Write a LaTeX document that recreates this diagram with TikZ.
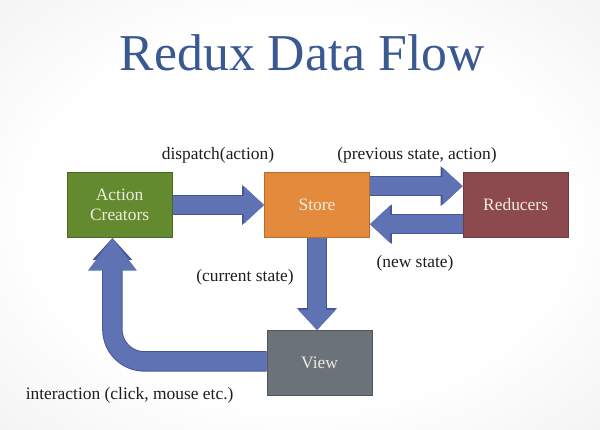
\documentclass[tikz,border=0pt]{standalone}
\usepackage{fontspec}
\setmainfont{Liberation Serif}
\usepackage{xcolor}
\usepackage{tikz}
\usetikzlibrary{arrows.meta, positioning}
\definecolor{mytitle}{RGB}{59,89,145}
\definecolor{mygreen}{RGB}{100,138,48}
\definecolor{myorange}{RGB}{228,138,60}
\definecolor{myred}{RGB}{140,74,78}
\definecolor{mygray}{RGB}{108,114,122}
\definecolor{myblue}{RGB}{94,114,180}
\definecolor{myedge}{RGB}{70,86,150}
\definecolor{mytext}{RGB}{238,236,222}
\definecolor{mydark}{RGB}{30,30,30}
\pgfdeclareradialshading{slidebg}{\pgfpoint{0bp}{0bp}}{color(0bp)=(white); color(22bp)=(white); color(50bp)=(black!9); color(72bp)=(black!22)}
\tikzset{
  box/.style={rectangle, minimum width=2.625cm, minimum height=1.625cm,
    align=center, text=mytext, line width=0.6pt,
    font=\fontsize{12.4}{14}\selectfont},
  label/.style={text=mydark, font=\fontsize{12.4}{14}\selectfont},
  fatarrow/.style={draw=myblue, line width=0.46cm,
    -{Triangle[length=0.5cm, width=0.9cm]},
    preaction={draw=myedge, line width=0.51cm,
      -{Triangle[length=0.55cm, width=0.96cm]}}}
}

\begin{document}
\begin{tikzpicture}
  % Background
  \shade[shading=slidebg] (0,0) rectangle (15,10.725);
  \useasboundingbox (0,0) rectangle (15,10.725);

  % Title
  \node[anchor=base, text=mytitle, font=\fontsize{36.8}{42}\selectfont] (title) at (7.56, 8.975) {Redux Data Flow};

  % Boxes
  \node[box, fill=mygreen, draw=mygreen!75!black] (ac) at (2.99, 5.6) {Action\\Creators};
  \node[box, fill=myorange, draw=myorange!80!black] (store) at (7.925, 5.61) {Store};
  \node[box, fill=myred, draw=myred!80!black] (red) at (12.89, 5.61) {Reducers};
  \node[box, fill=mygray, draw=mygray!75!black] (view) at (7.99, 1.65) {View};

  % Labels
  \node[label] (lbldisp) at (5.45, 6.85) {dispatch(action)};
  \node[label] (lblprev) at (10.425, 6.85) {(previous state, action)};
  \node[label] (lblnew) at (10.375, 4.15) {(new state)};
  \node[label] (lblcur) at (6.125, 3.8) {(current state)};
  \node[label] (lblint) at (3.24, 0.85) {interaction (click, mouse etc.)};

  % Arrows
  \draw[fatarrow] (ac.east) -- (ac.east -| store.west);
  \draw[fatarrow] ([yshift=0.46cm]store.east) -- ([yshift=0.46cm]red.west);
  \draw[fatarrow] ([yshift=-0.49cm]red.west) -- ([yshift=-0.49cm]store.east);
  \draw[fatarrow] (store.south) -- (store.south |- view.north);
  \draw[fatarrow, rounded corners=0.8cm,
    -{Triangle[length=0.82cm, width=1.17cm]},
    preaction={-{Triangle[length=0.87cm, width=1.24cm]}}]
    ([yshift=0.04cm]view.west) -| ([xshift=-0.18cm]ac.south);
\end{tikzpicture}
\end{document}
